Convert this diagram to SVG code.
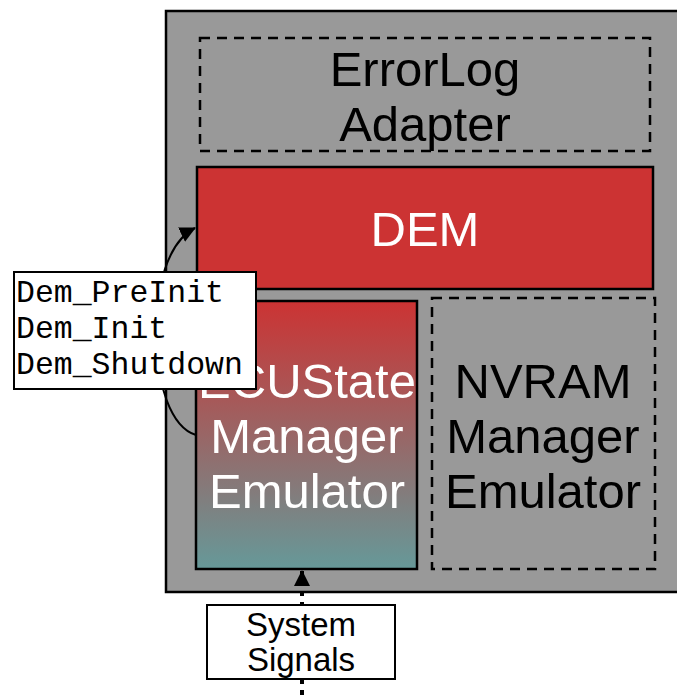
<svg xmlns="http://www.w3.org/2000/svg" width="677" height="695" viewBox="0 0 677 695">
<style>
.t{font-family:"Liberation Sans",Arial,sans-serif;font-size:49px;text-anchor:middle}
.w{fill:#ffffff}
.k{fill:#000000}
.m{font-family:"Liberation Mono","Courier New",monospace;font-size:31.5px;fill:#000}
.s{font-family:"Liberation Sans",Arial,sans-serif;font-size:33px;text-anchor:middle;fill:#000}
.dash{fill:none;stroke:#000;stroke-width:2.5;stroke-dasharray:10,7}
</style>
<defs>
<linearGradient id="g" x1="0" y1="0" x2="0" y2="1">
<stop offset="0" stop-color="#cc3333"/>
<stop offset="1" stop-color="#669999"/>
</linearGradient>
<marker id="ah2" markerWidth="16" markerHeight="16" refX="15" refY="8" orient="auto" markerUnits="userSpaceOnUse" viewBox="0 0 16 16">
<path d="M0,0 L16,8 L0,16 z" fill="#000"/>
</marker>
</defs>
<g id="container">
<rect x="166" y="11" width="520" height="581" fill="#999999" stroke="#000" stroke-width="2.5"/>
</g>
<g id="errorlog">
<rect x="200" y="38" width="450" height="113" class="dash"/>
<text class="t k" x="425" y="86">ErrorLog</text>
<text class="t k" x="425" y="141">Adapter</text>
</g>
<g id="dem">
<rect x="197" y="167" width="456" height="122" fill="#cc3333" stroke="#000" stroke-width="2.5"/>
<text class="t w" x="425" y="246">DEM</text>
</g>
<g id="ecustate">
<rect x="196" y="301" width="221" height="268" fill="url(#g)" stroke="#000" stroke-width="2.5"/>
<text class="t w" x="307" y="398">ECUState</text>
<text class="t w" x="307" y="453">Manager</text>
<text class="t w" x="307" y="508">Emulator</text>
</g>
<g id="nvram">
<rect x="432" y="298" width="223" height="271" class="dash"/>
<text class="t k" x="543" y="398">NVRAM</text>
<text class="t k" x="543" y="453">Manager</text>
<text class="t k" x="543" y="508">Emulator</text>
</g>
<g id="connectors">
<path d="M196,435 C145,420 140,255 195,228" fill="none" stroke="#000" stroke-width="2" marker-end="url(#ah2)"/>
<path d="M302,695 L302,571" fill="none" stroke="#000" stroke-width="4" stroke-dasharray="5,6" marker-end="url(#ah2)"/>
</g>
<g id="calls">
<rect x="14" y="272" width="242" height="117" fill="#fff" stroke="#000" stroke-width="2"/>
<text class="m" x="16" y="302">Dem_PreInit</text>
<text class="m" x="16" y="338">Dem_Init</text>
<text class="m" x="16" y="374">Dem_Shutdown</text>
</g>
<g id="signals">
<rect x="207" y="605" width="188" height="74" fill="#fff" stroke="#000" stroke-width="2"/>
<text class="s" x="301" y="636">System</text>
<text class="s" x="301" y="671">Signals</text>
</g>
</svg>
